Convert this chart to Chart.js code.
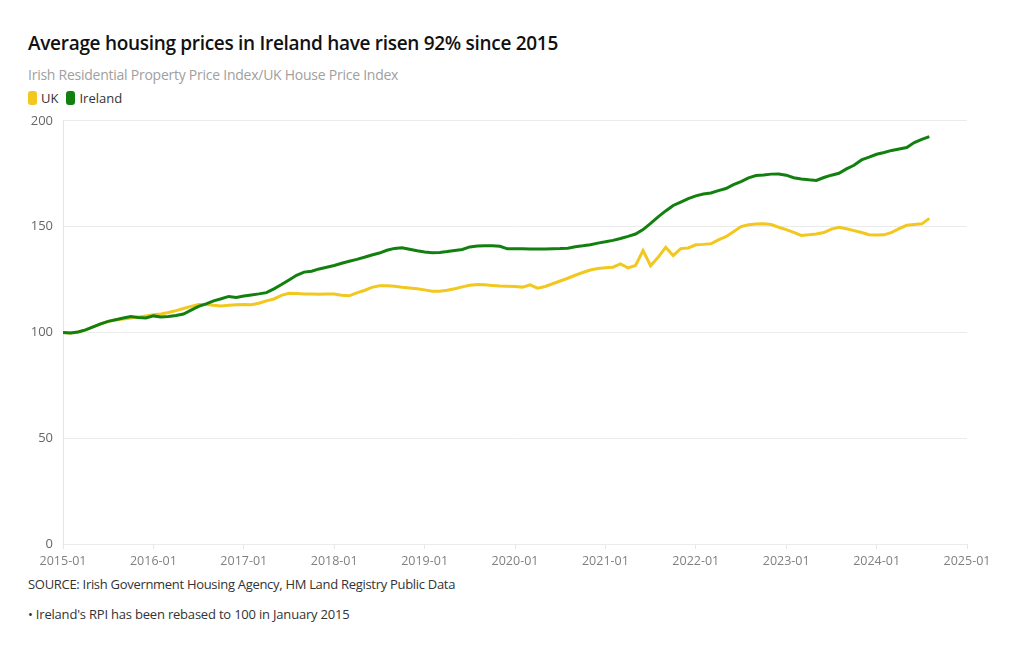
<!DOCTYPE html>
<html>
<head>
    <title>Housing prices: Ireland vs UK</title>
    <meta charset="UTF-8">
    <script src="https://cdn.jsdelivr.net/npm/chart.js"></script>
    <style>
        body { margin: 0; background: #fff; font-family: 'Open Sans', sans-serif; }
        .title { position: absolute; left: 28px; top: 30px; font-size: 19px; font-weight: 600; color: #111; letter-spacing: -0.3px; }
        .subtitle { position: absolute; left: 28px; top: 65px; font-size: 14px; color: #a0a0a0; letter-spacing: -0.25px; }
        .legend { position: absolute; left: 28px; top: 89px; font-size: 13px; color: #333; display: flex; align-items: center; }
        .swatch { display: inline-block; width: 9px; height: 14px; border-radius: 3px; margin-right: 4px; }
        .legend span.item { margin-right: 8px; display: flex; align-items: center; }
        .chart-container { position: absolute; left: 0; top: 103px; width: 1020px; height: 467px; }
        .source { position: absolute; left: 28px; top: 575px; font-size: 13px; color: #333; letter-spacing: -0.3px; }
        .note { position: absolute; left: 28px; top: 605px; font-size: 13px; color: #333; letter-spacing: -0.2px; }
    </style>
</head>
<body>
    <div class="title">Average housing prices in Ireland have risen 92% since 2015</div>
    <div class="subtitle">Irish Residential Property Price Index/UK House Price Index</div>
    <div class="legend">
        <span class="item"><i class="swatch" style="background:#f2c81e"></i>UK</span>
        <span class="item"><i class="swatch" style="background:#12800f"></i>Ireland</span>
    </div>
    <div class="chart-container"><canvas id="priceChart"></canvas></div>
    <div class="source">SOURCE: Irish Government Housing Agency, HM Land Registry Public Data</div>
    <div class="note">• Ireland's RPI has been rebased to 100 in January 2015</div>
    <script>
        // monthly values, Jan 2015 .. Aug 2024
        const ukValues = [
            100, 99.7, 100.2, 101.2, 102.6, 104, 105.2, 106, 106.3, 106.8, 107.3, 107.8,
            108.3, 108.7, 109.4, 110.3, 111.3, 112.3, 113.2, 113.2, 112.8, 112.5, 112.8, 113.1,
            113.2, 113.1, 113.8, 114.9, 115.8, 117.5, 118.5, 118.4, 118.2, 118.1, 118, 118.2,
            118.1, 117.6, 117.3, 118.7, 119.8, 121.3, 122, 122.1, 121.8, 121.3, 121, 120.6,
            120.1, 119.5, 119.4, 119.9, 120.6, 121.5, 122.3, 122.6, 122.5, 122.2, 121.9, 121.8,
            121.7, 121.4, 122.5, 120.9, 121.7, 123, 124.3, 125.6, 127, 128.3, 129.5, 130.2,
            130.5, 130.8, 132.4, 130.5, 131.6, 138.7, 131.5, 135.5, 140.2, 136.3, 139.6, 139.9,
            141.4, 141.6, 141.9, 143.7, 145.2, 147.6, 150, 150.9, 151.2, 151.3, 151, 149.7,
            148.6, 147.3, 145.8, 146.1, 146.5, 147.2, 148.8, 149.7, 149, 148.1, 147.2, 146.2,
            146, 146.1, 147.3, 149, 150.6, 151, 151.3, 153.9
        ];
        const irelandValues = [
            100, 99.7, 100.2, 101.2, 102.6, 104, 105.2, 106, 106.8, 107.5, 107, 106.8,
            107.8, 107.3, 107.5, 108, 108.7, 110.5, 112.3, 113.5, 114.9, 115.9, 117, 116.5,
            117.2, 117.7, 118.2, 118.8, 120.6, 122.6, 124.8, 127, 128.5, 128.9, 130, 130.8,
            131.6, 132.7, 133.6, 134.5, 135.5, 136.6, 137.5, 138.8, 139.7, 140, 139.3, 138.6,
            138, 137.7, 137.8, 138.2, 138.7, 139.2, 140.4, 140.8, 141, 141, 140.7, 139.5,
            139.5, 139.5, 139.4, 139.4, 139.4, 139.5, 139.6, 139.8, 140.5, 140.9, 141.4, 142.2,
            142.8, 143.5, 144.4, 145.4, 146.5, 148.6, 151.5, 154.6, 157.4, 160, 161.6, 163.2,
            164.5, 165.4, 165.9, 167, 168, 169.8, 171.3, 173, 174.1, 174.4, 174.8, 174.9,
            174.3, 173.1, 172.5, 172.1, 171.8, 173.2, 174.3, 175.2, 177.3, 179, 181.5, 182.8,
            184.2, 185, 186, 186.7, 187.4, 189.7, 191.2, 192.5
        ];
        const xTickLabels = ['2015-01', '2016-01', '2017-01', '2018-01', '2019-01', '2020-01',
            '2021-01', '2022-01', '2023-01', '2024-01', '2025-01'];
        const yTicks = [0, 50, 100, 150, 200];

        const toPoints = vals => vals.map((v, i) => ({ x: i, y: v }));

        const ctx = document.getElementById('priceChart').getContext('2d');
        const chart = new Chart(ctx, {
            type: 'line',
            data: {
                datasets: [{
                    label: 'UK',
                    data: toPoints(ukValues),
                    borderColor: '#f2c81e',
                    borderWidth: 3,
                    pointRadius: 0,
                    order: 2
                }, {
                    label: 'Ireland',
                    data: toPoints(irelandValues),
                    borderColor: '#12800f',
                    borderWidth: 3,
                    pointRadius: 0,
                    order: 1
                }]
            },
            options: {
                responsive: true,
                maintainAspectRatio: false,
                animation: false,
                layout: { padding: { top: 3, right: 53, left: 0, bottom: 0 } },
                scales: {
                    x: {
                        type: 'linear',
                        min: 0,
                        max: 120,
                        afterFit: s => { s.height = 26; },
                        afterBuildTicks: s => { s.ticks = xTickLabels.map((_, i) => ({ value: i * 12 })); },
                        ticks: {
                            callback: v => xTickLabels[v / 12],
                            color: '#808080',
                            font: { family: 'Open Sans', size: 12.5 },
                            padding: 5,
                            maxRotation: 0
                        },
                        grid: { drawOnChartArea: false, tickLength: 5, color: '#e6e6e6' },
                        border: { display: false }
                    },
                    y: {
                        min: 0,
                        max: 200,
                        afterFit: s => { s.width = 63; },
                        afterBuildTicks: s => { s.ticks = yTicks.map(v => ({ value: v })); },
                        ticks: {
                            color: '#666',
                            font: { family: 'Open Sans', size: 13 },
                            padding: 10
                        },
                        grid: { drawTicks: false, color: '#ebebeb' },
                        border: { display: true, color: '#e6e6e6' }
                    }
                },
                plugins: {
                    legend: { display: false },
                    tooltip: { enabled: false }
                }
            }
        });
    </script>
</body>
</html>
